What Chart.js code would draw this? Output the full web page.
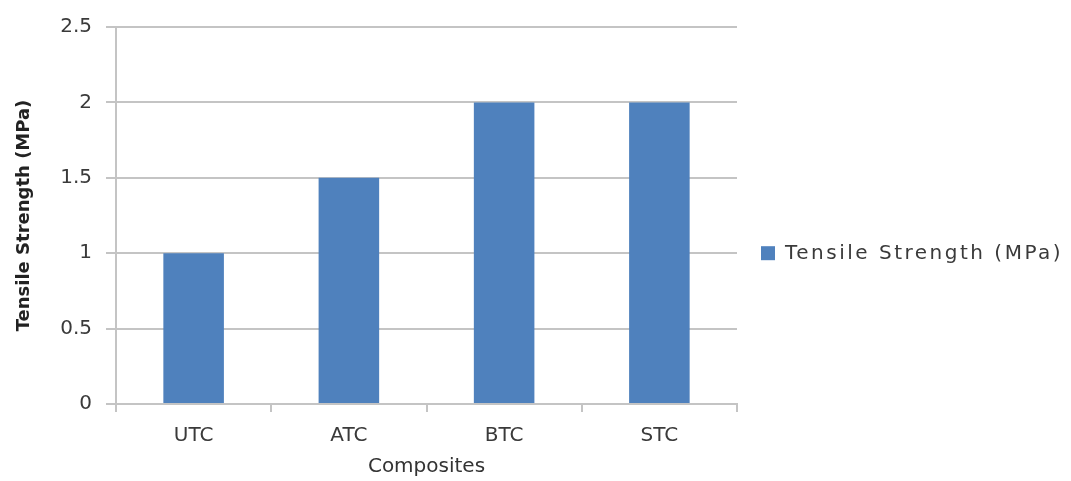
<!DOCTYPE html>
<html>
<head>
<meta charset="utf-8">
<title>Tensile Strength</title>
<script src="https://cdn.jsdelivr.net/npm/chart.js@4/dist/chart.umd.min.js"></script>
<style>
  html, body { margin: 0; padding: 0; background: #ffffff; }
  #wrap { width: 1071px; height: 481px; position: relative; }
</style>
</head>
<body>
<div id="wrap"><canvas id="chart-tensile"></canvas></div>
<script>
// Chart data
const categories = ["UTC", "ATC", "BTC", "STC"];
const tensileValues = [1, 1.5, 2, 2];
const seriesLabel = "Tensile Strength (MPa)";
const yAxisTitle = "Tensile Strength (MPa)";
const xAxisTitle = "Composites";

const BAR_COLOR = "#4f81bd";
const GRID_COLOR = "#c4c4c4";
const TEXT_COLOR = "#3a3a3a";

Chart.defaults.font.family = "'DejaVu Sans', sans-serif";
Chart.defaults.color = TEXT_COLOR;

// Legend drawn beside the plot, like the spreadsheet original
const sideLegend = {
  id: "sideLegend",
  afterDraw(chart) {
    const ctx = chart.ctx;
    const area = chart.chartArea;
    const ds = chart.data.datasets[0];
    const boxX = area.right + 24;
    const cy = area.top + area.height * 0.6;
    ctx.save();
    ctx.fillStyle = ds.backgroundColor;
    ctx.fillRect(boxX, cy - 7, 14, 14);
    ctx.fillStyle = TEXT_COLOR;
    ctx.font = "20px 'DejaVu Sans', sans-serif";
    ctx.letterSpacing = "2.5px";
    ctx.textBaseline = "middle";
    ctx.textAlign = "left";
    ctx.fillText(ds.label, boxX + 24, cy + 1);
    ctx.restore();
  }
};

const ctx = document.getElementById("chart-tensile").getContext("2d");
new Chart(ctx, {
  type: "bar",
  data: {
    labels: categories,
    datasets: [{
      label: seriesLabel,
      data: tensileValues,
      backgroundColor: BAR_COLOR,
      categoryPercentage: 1,
      barPercentage: 0.39
    }]
  },
  options: {
    responsive: true,
    maintainAspectRatio: false,
    animation: false,
    layout: {
      padding: { top: 27, right: 334, bottom: 0, left: 0 }
    },
    plugins: {
      legend: { display: false },
      tooltip: { enabled: false }
    },
    scales: {
      x: {
        afterFit: (scale) => { scale.height = 77; },
        grid: {
          display: true,
          drawOnChartArea: false,
          drawTicks: true,
          tickLength: 8,
          color: GRID_COLOR,
          lineWidth: 2
        },
        border: { color: GRID_COLOR, width: 2 },
        ticks: {
          padding: 12,
          font: { size: 20 },
          color: TEXT_COLOR
        },
        title: {
          display: true,
          text: xAxisTitle,
          color: "#333333",
          font: { size: 20 },
          padding: { top: 0, bottom: 2 }
        }
      },
      y: {
        min: 0,
        max: 2.5,
        afterFit: (scale) => { scale.width = 116; },
        grid: {
          color: GRID_COLOR,
          lineWidth: 2,
          tickLength: 10
        },
        border: { color: GRID_COLOR, width: 2 },
        ticks: {
          stepSize: 0.5,
          padding: 14,
          font: { size: 20 },
          color: TEXT_COLOR,
          callback: (v) => String(Number(v.toFixed(1)))
        },
        title: {
          display: true,
          text: yAxisTitle,
          color: "#222222",
          font: { size: 18, weight: "bold" },
          padding: { top: 14, bottom: 0 }
        }
      }
    }
  },
  plugins: [sideLegend]
});
</script>
</body>
</html>
